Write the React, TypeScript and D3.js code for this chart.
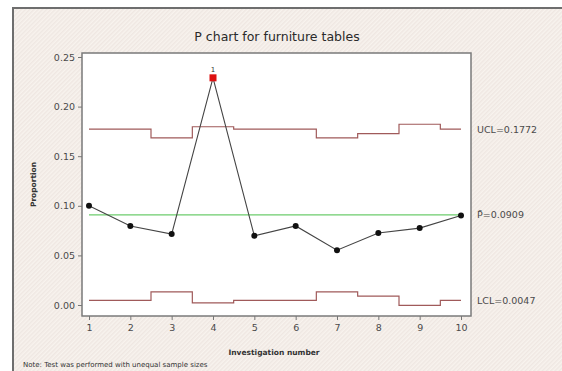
import React, { useRef, useEffect } from 'react';
import * as d3 from 'd3';

// values
const samples = [1, 2, 3, 4, 5, 6, 7, 8, 9, 10];
const proportion = [0.1, 0.0797, 0.0715, 0.229, 0.0697, 0.0797, 0.0553, 0.0726, 0.0775, 0.0903];
const ucl = [0.1772, 0.1772, 0.1685, 0.1797, 0.1772, 0.1772, 0.1685, 0.1728, 0.1822, 0.1772];
const lcl = [0.0047, 0.0047, 0.0133, 0.0021, 0.0047, 0.0047, 0.0133, 0.009, -0.0004, 0.0047];
const centerLine = 0.0909;
const yTicks = [0, 0.05, 0.1, 0.15, 0.2, 0.25];
const outOfControl = [4];

const W = 562;
const H = 371;
const FONT = '"DejaVu Sans", Verdana, sans-serif';

const PChart = () => {
  const ref = useRef<SVGSVGElement>(null);

  useEffect(() => {
    const svg = d3.select(ref.current);
    svg.selectAll('*').remove();

    const defs = svg.append('defs');
    const pat = defs
      .append('pattern')
      .attr('id', 'hatch')
      .attr('width', 3)
      .attr('height', 3)
      .attr('patternUnits', 'userSpaceOnUse')
      .attr('patternTransform', 'rotate(45)');
    pat.append('rect').attr('width', 3).attr('height', 3).attr('fill', '#f8f3ee');
    pat.append('rect').attr('width', 1.5).attr('height', 3).attr('fill', '#efe7e2');

    // outer panel
    svg.append('rect').attr('width', W).attr('height', H).attr('fill', '#ffffff');
    svg
      .append('rect')
      .attr('x', 13)
      .attr('y', 8)
      .attr('width', W - 12)
      .attr('height', H - 7)
      .attr('fill', 'url(#hatch)')
      .attr('stroke', '#6e6e6e')
      .attr('stroke-width', 2);

    const plot = { left: 82, right: 471, top: 53, bottom: 316 };

    const x = d3.scaleLinear().domain([1, 10]).range([89, 461]);
    const y = d3.scaleLinear().domain([0, 0.25]).range([305, 57]);

    svg
      .append('rect')
      .attr('x', plot.left)
      .attr('y', plot.top)
      .attr('width', plot.right - plot.left)
      .attr('height', plot.bottom - plot.top)
      .attr('fill', '#ffffff')
      .attr('stroke', '#7a7a7a')
      .attr('stroke-width', 1.5);

    svg
      .append('text')
      .attr('x', 277)
      .attr('y', 41)
      .attr('text-anchor', 'middle')
      .attr('font-family', FONT)
      .attr('font-size', 12.5)
      .attr('fill', '#2a2a2a')
      .text('P chart for furniture tables');

    // y axis
    const yAxis = d3
      .axisLeft(y)
      .tickValues(yTicks)
      .tickSize(4)
      .tickPadding(3)
      .tickFormat(d3.format('.2f'));
    const gy = svg.append('g').attr('transform', `translate(${plot.left},0)`).call(yAxis);
    gy.select('.domain').remove();
    gy.selectAll('line').attr('stroke', '#777');
    gy.selectAll('text')
      .attr('font-family', FONT)
      .attr('font-size', 9.5)
      .attr('fill', '#4a4a4a');

    // x axis
    const xAxis = d3.axisBottom(x).tickValues(samples).tickSize(4).tickPadding(4).tickFormat(d3.format('d'));
    const gx = svg.append('g').attr('transform', `translate(0,${plot.bottom})`).call(xAxis);
    gx.select('.domain').remove();
    gx.selectAll('line').attr('stroke', '#777');
    gx.selectAll('text')
      .attr('font-family', FONT)
      .attr('font-size', 9.5)
      .attr('fill', '#4a4a4a');

    svg
      .append('text')
      .attr('transform', `translate(36,${(plot.top + plot.bottom) / 2}) rotate(-90)`)
      .attr('text-anchor', 'middle')
      .attr('font-family', FONT)
      .attr('font-size', 7.5)
      .attr('font-weight', 'bold')
      .attr('fill', '#333')
      .text('Proportion');

    svg
      .append('text')
      .attr('x', 274)
      .attr('y', 355)
      .attr('text-anchor', 'middle')
      .attr('font-family', FONT)
      .attr('font-size', 7.5)
      .attr('font-weight', 'bold')
      .attr('fill', '#333')
      .text('Investigation number');

    svg
      .append('text')
      .attr('x', 23)
      .attr('y', 367)
      .attr('font-family', FONT)
      .attr('font-size', 7)
      .attr('fill', '#333')
      .text('Note: Test was performed with unequal sample sizes');

    // control limits
    const step = d3
      .line<number>()
      .x((_, i) => x(samples[i]))
      .y((d) => y(d))
      .curve(d3.curveStep);

    [ucl, lcl].forEach((limit) => {
      svg
        .append('path')
        .datum(limit)
        .attr('fill', 'none')
        .attr('stroke', '#a05a5a')
        .attr('stroke-width', 1.2)
        .attr('d', step);
    });

    svg
      .append('line')
      .attr('x1', x(1))
      .attr('x2', x(10))
      .attr('y1', y(centerLine))
      .attr('y2', y(centerLine))
      .attr('stroke', '#6ccc6c')
      .attr('stroke-width', 1.3);

    // data
    const line = d3
      .line<number>()
      .x((_, i) => x(samples[i]))
      .y((d) => y(d));
    svg
      .append('path')
      .datum(proportion)
      .attr('fill', 'none')
      .attr('stroke', '#444')
      .attr('stroke-width', 1.1)
      .attr('d', line);

    samples.forEach((s, i) => {
      if (outOfControl.includes(s)) {
        svg
          .append('rect')
          .attr('x', x(s) - 3.5)
          .attr('y', y(proportion[i]) - 3.5)
          .attr('width', 7)
          .attr('height', 7)
          .attr('fill', '#dd1111');
        svg
          .append('text')
          .attr('x', x(s))
          .attr('y', y(proportion[i]) - 6)
          .attr('text-anchor', 'middle')
          .attr('font-family', FONT)
          .attr('font-size', 7)
          .attr('fill', '#333')
          .text('1');
      } else {
        svg
          .append('circle')
          .attr('cx', x(s))
          .attr('cy', y(proportion[i]))
          .attr('r', 3)
          .attr('fill', '#111');
      }
    });

    // right-side labels
    const labels = [
      { v: ucl[ucl.length - 1], t: 'UCL=0.1772' },
      { v: centerLine, t: 'P\u0304=0.0909' },
      { v: lcl[lcl.length - 1], t: 'LCL=0.0047' },
    ];
    labels.forEach((l) => {
      svg
        .append('text')
        .attr('x', 477)
        .attr('y', y(l.v) + 3.5)
        .attr('font-family', FONT)
        .attr('font-size', 9.5)
        .attr('fill', '#4a4a4a')
        .text(l.t);
    });
  }, []);

  return (
    <svg
      ref={ref}
      width={W}
      height={H}
      style={{ position: 'absolute', left: 0, top: 0, display: 'block' }}
    />
  );
};

export default function App() {
  return <PChart />;
}
